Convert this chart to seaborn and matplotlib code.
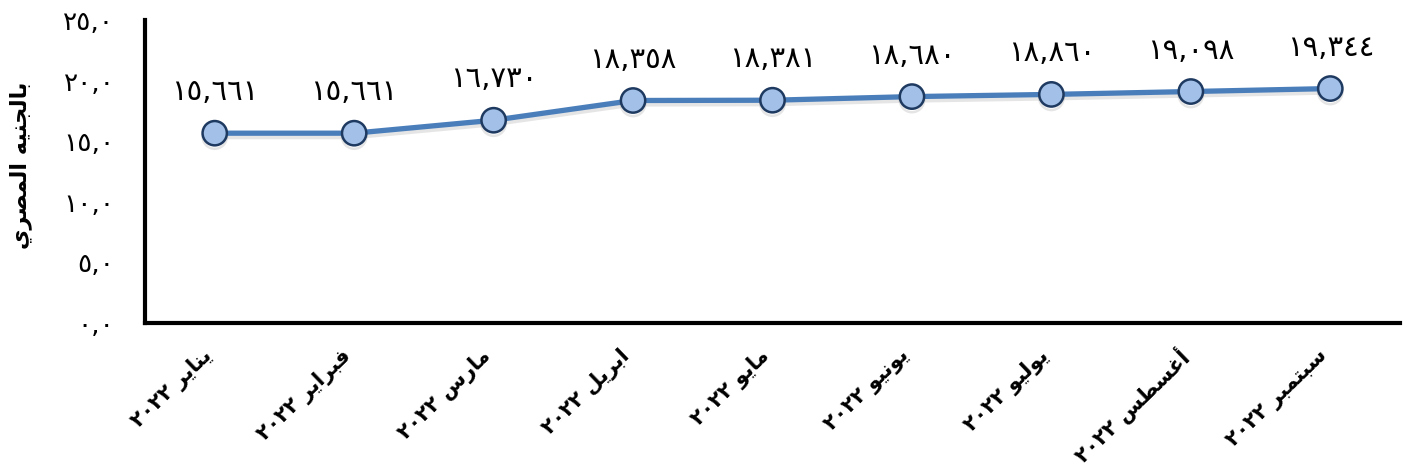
from matplotlib import pyplot as plt
from matplotlib import patheffects as pe
from matplotlib import transforms
import seaborn as sns

# data (values in EGP thousand)
months = ['يناير', 'فبراير', 'مارس', 'ابريل', 'مايو', 'يونيو', 'يوليو', 'أغسطس', 'سبتمبر']
year = '٢٠٢٢'
values = [15.661, 15.661, 16.730, 18.358, 18.381, 18.680, 18.860, 19.098, 19.344]
y_ticks = [0, 5, 10, 15, 20, 25]
y_title = 'بالجنيه المصري'

# arabic presentation forms: isolated, final, initial, medial
FORMS = {
    'ا': ('\uFE8D', '\uFE8E', None, None),
    'أ': ('\uFE83', '\uFE84', None, None),
    'ب': ('\uFE8F', '\uFE90', '\uFE91', '\uFE92'),
    'ت': ('\uFE95', '\uFE96', '\uFE97', '\uFE98'),
    'ج': ('\uFE9D', '\uFE9E', '\uFE9F', '\uFEA0'),
    'ر': ('\uFEAD', '\uFEAE', None, None),
    'س': ('\uFEB1', '\uFEB2', '\uFEB3', '\uFEB4'),
    'ص': ('\uFEB9', '\uFEBA', '\uFEBB', '\uFEBC'),
    'ط': ('\uFEC1', '\uFEC2', '\uFEC3', '\uFEC4'),
    'غ': ('\uFECD', '\uFECE', '\uFECF', '\uFED0'),
    'ف': ('\uFED1', '\uFED2', '\uFED3', '\uFED4'),
    'ل': ('\uFEDD', '\uFEDE', '\uFEDF', '\uFEE0'),
    'م': ('\uFEE1', '\uFEE2', '\uFEE3', '\uFEE4'),
    'ن': ('\uFEE5', '\uFEE6', '\uFEE7', '\uFEE8'),
    'ه': ('\uFEE9', '\uFEEA', '\uFEEB', '\uFEEC'),
    'و': ('\uFEED', '\uFEEE', None, None),
    'ي': ('\uFEF1', '\uFEF2', '\uFEF3', '\uFEF4'),
}


def shape(text):
    # join letters and reverse for left-to-right drawing
    out = []
    for i, ch in enumerate(text):
        if ch not in FORMS:
            out.append(ch)
            continue
        prev = text[i - 1] if i > 0 else ''
        nxt = text[i + 1] if i + 1 < len(text) else ''
        iso, fin, ini, med = FORMS[ch]
        join_prev = prev in FORMS and FORMS[prev][2] is not None
        join_next = ini is not None and nxt in FORMS
        if join_prev and join_next:
            out.append(med)
        elif join_prev:
            out.append(fin)
        elif join_next:
            out.append(ini)
        else:
            out.append(iso)
    return ''.join(reversed(out))


def arabic_digits(s):
    return s.translate(str.maketrans('0123456789', '٠١٢٣٤٥٦٧٨٩'))


labels = [year + ' ' + shape(m) for m in months]

sns.set_style('white')
plt.rcParams['font.family'] = ['DejaVu Sans']

fig = plt.figure(figsize=(14.06, 4.73), dpi=100)
ax = fig.add_axes([145 / 1406, 1 - 323 / 473, 1255 / 1406, 303 / 473])

sns.lineplot(x=labels, y=values, ax=ax, color='#4A7EBB', linewidth=3.8,
             marker='o', markersize=17.5, markerfacecolor='#A3C1E8',
             markeredgecolor='#1F3A60', markeredgewidth=1.8,
             path_effects=[pe.SimpleLineShadow(offset=(0, -2.5), shadow_color='gray', alpha=0.2),
                           pe.Normal()])

for i, v in enumerate(values):
    ax.annotate(arabic_digits(f'{v:.3f}'.replace('.', ',')), (i, v),
                xytext=(0, 41), textcoords='offset pixels',
                ha='center', va='center', fontsize=21, color='black')

ax.set_xlim(-0.5, len(values) - 0.5)
ax.set_ylim(0, 25)
ax.set_yticks(y_ticks)
ax.set_yticklabels([arabic_digits(f'{t:.1f}'.replace('.', ',')) for t in y_ticks],
                   fontsize=19, color='black')
ax.tick_params(axis='y', length=0, pad=22)
ax.tick_params(axis='x', length=0, pad=10)

shift = transforms.ScaledTranslation(-6 / 100, -16 / 100, fig.dpi_scale_trans)
for lab in ax.get_xticklabels():
    lab.set_rotation(44)
    lab.set_ha('right')
    lab.set_va('center')
    lab.set_rotation_mode('anchor')
    lab.set_fontsize(15)
    lab.set_fontweight('bold')
    lab.set_color('black')
    lab.set_transform(lab.get_transform() + shift)

ax.set_ylabel(shape(y_title), fontsize=16, fontweight='bold', color='black')
ax.yaxis.set_label_coords(-(145 - 32) / 1255, 0.52)

for side in ['top', 'right']:
    ax.spines[side].set_visible(False)
for side in ['left', 'bottom']:
    ax.spines[side].set_color('black')
    ax.spines[side].set_linewidth(3)

fig.savefig('out.png', dpi=100)
